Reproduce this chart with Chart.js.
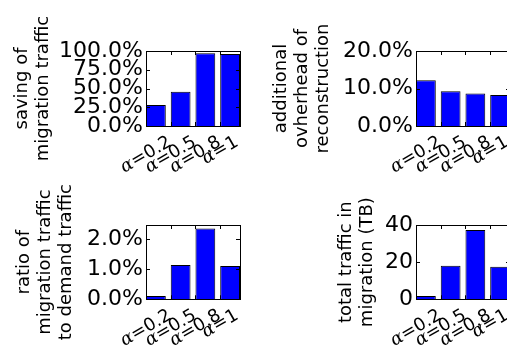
<!DOCTYPE html>
<html>
<head>
<meta charset="utf-8">
<script src="https://cdn.jsdelivr.net/npm/chart.js@4.4.0/dist/chart.umd.min.js"></script>
<style>
  html, body { margin: 0; padding: 0; background: #fff; }
  #fig { position: relative; width: 507px; height: 350px; overflow: hidden; }
  #fig canvas { position: absolute; }
</style>
</head>
<body>
<div id="fig">
  <canvas id="saving" width="260" height="175" style="left:0;top:0"></canvas>
  <canvas id="overhead" width="260" height="175" style="left:260px;top:0"></canvas>
  <canvas id="ratio" width="260" height="175" style="left:0;top:175px"></canvas>
  <canvas id="traffic" width="260" height="175" style="left:260px;top:175px"></canvas>
</div>
<script>
// alpha values on the x axis
const categories = ["0.2", "0.5", "0.8", "1"];

// series
const savingValues = [28, 45.7, 97, 96];        // %
const overheadValues = [12.2, 9.3, 8.7, 8.3];   // %
const ratioValues = [0.11, 1.14, 2.35, 1.11];   // %
const trafficValues = [1.8, 18.1, 37.3, 17.5];  // TB

// tick labels
const savingTicks = [0, 25, 50, 75, 100];
const overheadTicks = [0, 10, 20];
const ratioTicks = [0, 1, 2];
const trafficTicks = [0, 20, 40];

const LABEL_SIZE = 18;
const ROT = 30 * Math.PI / 180;

// matplotlib-ish frame, inward ticks, rotated x labels, multi-line y label
const mplFrame = {
  id: "mplFrame",
  afterDatasetsDraw(chart, args, opts) {
    const { ctx, chartArea: a, scales: { x, y } } = chart;
    ctx.save();
    ctx.strokeStyle = "#000";
    ctx.fillStyle = "#000";
    ctx.lineWidth = 1;

    ctx.beginPath();
    y.ticks.forEach((t) => {
      const py = Math.round(y.getPixelForValue(t.value)) + 0.5;
      ctx.moveTo(a.left, py); ctx.lineTo(a.left + 4, py);
      ctx.moveTo(a.right, py); ctx.lineTo(a.right - 4, py);
    });
    x.ticks.forEach((t) => {
      const px = Math.round(x.getPixelForValue(t.value)) + 0.5;
      ctx.moveTo(px, a.top); ctx.lineTo(px, a.top + 4);
      ctx.moveTo(px, a.bottom); ctx.lineTo(px, a.bottom - 4);
    });
    ctx.stroke();
    ctx.strokeRect(Math.round(a.left) + 0.5, Math.round(a.top) + 0.5,
      Math.round(a.right - a.left), Math.round(a.bottom - a.top));

    // x tick labels: "α=0.2", rotated, centered on the tick
    const alphaFont = "italic " + LABEL_SIZE + "px 'DejaVu Serif'";
    const restFont = LABEL_SIZE + "px 'DejaVu Sans'";
    ctx.textBaseline = "middle";
    ctx.textAlign = "left";
    categories.forEach((c, i) => {
      ctx.font = alphaFont;
      const wa = ctx.measureText("α").width;
      ctx.font = restFont;
      const rest = "=" + c;
      const wb = ctx.measureText(rest).width;
      const w = wa + wb;
      const h = LABEL_SIZE * 1.15;
      const H = w * Math.sin(ROT) + h * Math.cos(ROT);
      const px = x.getPixelForValue(i);
      const cy = a.bottom + 6 + H / 2;
      ctx.save();
      ctx.translate(px, cy);
      ctx.rotate(-ROT);
      ctx.font = alphaFont;
      ctx.fillText("α", -w / 2, 0);
      ctx.font = restFont;
      ctx.fillText(rest, -w / 2 + wa, 0);
      ctx.restore();
    });

    // y axis label
    const lines = opts.lines;
    const cyMid = (a.top + a.bottom) / 2 + (opts.titleDy || 0);
    ctx.font = LABEL_SIZE + "px 'DejaVu Sans'";
    ctx.textAlign = "center";
    lines.forEach((ln, j) => {
      const lx = opts.titleX + (j - (lines.length - 1) / 2) * 21;
      ctx.save();
      ctx.translate(lx, cyMid);
      ctx.rotate(-Math.PI / 2);
      ctx.fillText(ln, 0, 0);
      ctx.restore();
    });
    ctx.restore();
  }
};

function makeChart(id, values, ticks, yMax, fmt, box, lines, titleX) {
  new Chart(document.getElementById(id), {
    type: "bar",
    data: {
      datasets: [{
        data: values.map((v, i) => ({ x: i + 0.4, y: v })),
        backgroundColor: "#0000ff",
        borderColor: "#000",
        borderWidth: 1,
        barPercentage: 0.8,
        categoryPercentage: 1.0,
      }],
    },
    options: {
      responsive: false,
      animation: false,
      devicePixelRatio: 1,
      layout: { padding: { left: 0, top: box.top, right: box.right, bottom: box.bottom } },
      plugins: {
        legend: { display: false },
        tooltip: { enabled: false },
        mplFrame: { lines: lines, titleX: titleX },
      },
      scales: {
        x: {
          type: "linear",
          min: 0,
          max: 3.8,
          offset: false,
          grid: { display: false },
          border: { display: false },
          ticks: { display: false },
          afterBuildTicks: (s) => { s.ticks = categories.map((c, i) => ({ value: i })); },
          afterFit: (s) => { s.height = 0; },
        },
        y: {
          min: 0,
          max: yMax,
          grid: { display: false, drawTicks: false },
          border: { display: false },
          ticks: {
            color: "#000",
            font: { family: "DejaVu Sans", size: 22 },
            padding: 3,
            autoSkip: false,
            callback: fmt,
          },
          afterBuildTicks: (s) => { s.ticks = ticks.map((v) => ({ value: v })); },
          afterFit: (s) => { s.width = box.left; },
        },
      },
    },
    plugins: [mplFrame],
  });
}

const pct = (v) => v.toFixed(1) + "%";

makeChart("saving", savingValues, savingTicks, 100, pct,
  { left: 146, top: 51, right: 20, bottom: 49 },
  ["saving of", "migration traffic"], 33);
makeChart("overhead", overheadValues, overheadTicks, 20, pct,
  { left: 156, top: 51, right: 10, bottom: 49 },
  ["additional", "ovherhead of", "reconstruction"], 42.5);
makeChart("ratio", ratioValues, ratioTicks, 2.47, pct,
  { left: 146, top: 50, right: 20, bottom: 50.7 },
  ["ratio of", "migration traffic", "to demand traffic"], 45.5);
makeChart("traffic", trafficValues, trafficTicks, 40, (v) => String(v),
  { left: 156, top: 50, right: 10, bottom: 50.7 },
  ["total traffic in", "migration (TB)"], 96.6);
</script>
</body>
</html>
